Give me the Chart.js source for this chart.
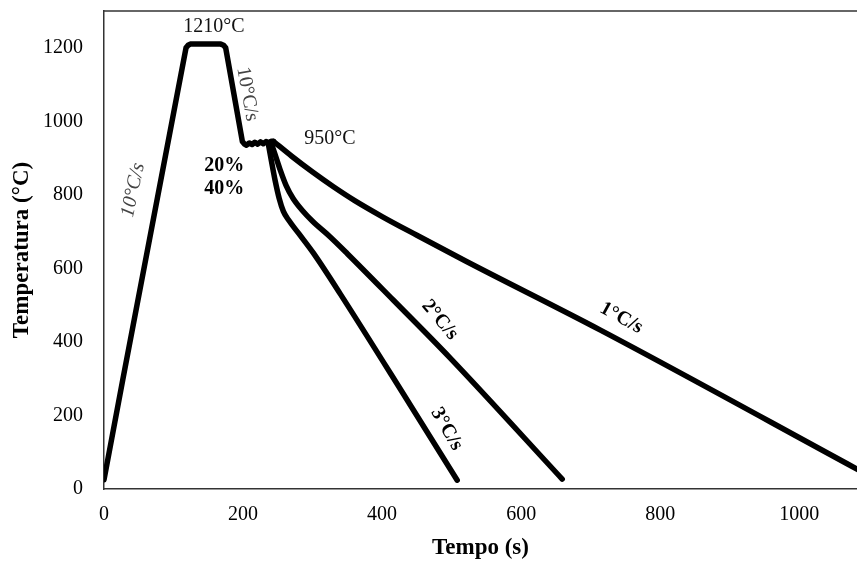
<!DOCTYPE html>
<html>
<head>
<meta charset="utf-8">
<script src="https://cdn.jsdelivr.net/npm/chart.js@4.4.0/dist/chart.umd.min.js"></script>
<style>
body { margin: 0; background: #fff; }
</style>
</head>
<body>
<canvas id="myChart" width="857" height="563"></canvas>
<script>
// heating, hold at 1210, cooling to 950 and deformation steps
var heatTime = [0, 27, 118, 121, 124, 168, 172, 175, 199, 202, 205, 209, 213, 217, 221, 225, 229, 233, 237, 241, 244];
var heatTemp = [25, 297, 1200, 1207, 1210, 1210, 1207, 1200, 945, 938, 935, 941, 937, 943, 938, 944, 939, 945, 941, 946, 945];

// 1 °C/s
var cool1Time = [244, 270, 300, 330, 360, 400, 450, 520, 714, 1085];
var cool1Temp = [945, 905, 862, 822, 785, 741, 690, 620, 432, 52];

// 2 °C/s
var cool2Time = [240, 246, 253, 262, 272, 285, 300, 325, 350, 416, 498, 659];
var cool2Temp = [944, 910, 870, 825, 790, 758, 728, 686, 640, 514, 356, 27];

// 3 °C/s
var cool3Time = [236, 241, 246, 252, 258, 266, 280, 301, 340, 436, 508];
var cool3Temp = [942, 890, 840, 790, 755, 730, 695, 642, 530, 242, 24];

var xTicks = [0, 200, 400, 600, 800, 1000];
var yTicks = [0, 200, 400, 600, 800, 1000, 1200];

function toPoints(t, T) {
    var pts = [];
    for (var i = 0; i < t.length; i++) {
        pts.push({ x: t[i], y: T[i] });
    }
    return pts;
}

var serif = '"Liberation Serif", "Times New Roman", serif';

// text notes, placed in data units (s, °C)
var notes = [
    { text: '1210°C', x: 158, y: 1256, rot: 0, style: '', color: '#111' },
    { text: '10°C/s', x: 206, y: 1074, rot: 80, style: '', color: '#444' },
    { text: '10°C/s', x: 42, y: 813, rot: -78, style: 'italic ', color: '#444' },
    { text: '950°C', x: 325, y: 952, rot: 0, style: '', color: '#111' },
    { text: '20%', x: 173, y: 878, rot: 0, style: 'bold ', color: '#000' },
    { text: '40%', x: 173, y: 816, rot: 0, style: 'bold ', color: '#000' },
    { text: '1°C/s', x: 744, y: 465, rot: 29, style: 'bold ', color: '#000' },
    { text: '2°C/s', x: 483, y: 460, rot: 50, style: 'bold ', color: '#000' },
    { text: '3°C/s', x: 493, y: 163, rot: 60, style: 'bold ', color: '#000' }
];

var notesPlugin = {
    id: 'notes',
    afterDatasetsDraw: function (chart) {
        var ctx = chart.ctx;
        var xs = chart.scales.x;
        var ys = chart.scales.y;
        var area = chart.chartArea;
        ctx.save();
        // top frame line
        ctx.strokeStyle = '#333';
        ctx.lineWidth = 1.5;
        ctx.beginPath();
        ctx.moveTo(area.left, area.top);
        ctx.lineTo(chart.width, area.top);
        ctx.stroke();

        ctx.textAlign = 'center';
        ctx.textBaseline = 'middle';
        notes.forEach(function (n) {
            ctx.save();
            ctx.translate(xs.getPixelForValue(n.x), ys.getPixelForValue(n.y));
            ctx.rotate(n.rot * Math.PI / 180);
            ctx.font = n.style + '20px ' + serif;
            ctx.fillStyle = n.color;
            ctx.fillText(n.text, 0, 0);
            ctx.restore();
        });
        ctx.restore();
    }
};

var ctx = document.getElementById('myChart');
var myChart = new Chart(ctx, {
    type: 'line',
    data: {
        datasets: [
            { label: 'aquecimento', data: toPoints(heatTime, heatTemp) },
            { label: '1°C/s', data: toPoints(cool1Time, cool1Temp), cubicInterpolationMode: 'monotone' },
            { label: '2°C/s', data: toPoints(cool2Time, cool2Temp), cubicInterpolationMode: 'monotone' },
            { label: '3°C/s', data: toPoints(cool3Time, cool3Temp), cubicInterpolationMode: 'monotone' }
        ]
    },
    options: {
        responsive: false,
        animation: false,
        layout: { padding: { top: 11, right: 0, bottom: 0, left: 0 } },
        plugins: {
            legend: { display: false },
            tooltip: { enabled: false }
        },
        elements: {
            point: { radius: 0 },
            line: {
                borderColor: '#000',
                borderWidth: 5.5,
                borderJoinStyle: 'round',
                borderCapStyle: 'round',
                tension: 0
            }
        },
        scales: {
            x: {
                type: 'linear',
                min: 0,
                max: 1083,
                afterBuildTicks: function (s) {
                    s.ticks = xTicks.map(function (v) { return { value: v }; });
                },
                afterFit: function (s) {
                    s.height = 74;
                    s.paddingLeft = 0;
                    s.paddingRight = 0;
                },
                grid: { display: false, drawTicks: false },
                border: { color: '#333', width: 1.5 },
                ticks: {
                    padding: 14,
                    maxRotation: 0,
                    color: '#000',
                    font: { family: serif, size: 20 },
                    callback: function (v) { return String(v); }
                },
                title: {
                    display: true,
                    text: 'Tempo (s)',
                    color: '#000',
                    padding: { top: 0, bottom: 1 },
                    font: { family: serif, size: 23, weight: 'bold' }
                }
            },
            y: {
                min: 0,
                max: 1300,
                afterBuildTicks: function (s) {
                    s.ticks = yTicks.map(function (v) { return { value: v }; });
                },
                afterFit: function (s) {
                    s.width = 104;
                    s.paddingTop = 0;
                    s.paddingBottom = 0;
                },
                grid: { display: false, drawTicks: false },
                border: { color: '#333', width: 1.5 },
                ticks: {
                    padding: 21,
                    color: '#000',
                    font: { family: serif, size: 20 },
                    callback: function (v) { return String(v); }
                },
                title: {
                    display: true,
                    text: 'Temperatura (°C)',
                    color: '#000',
                    padding: { top: 8, bottom: 0 },
                    font: { family: serif, size: 23, weight: 'bold' }
                }
            }
        }
    },
    plugins: [notesPlugin]
});
</script>
</body>
</html>
